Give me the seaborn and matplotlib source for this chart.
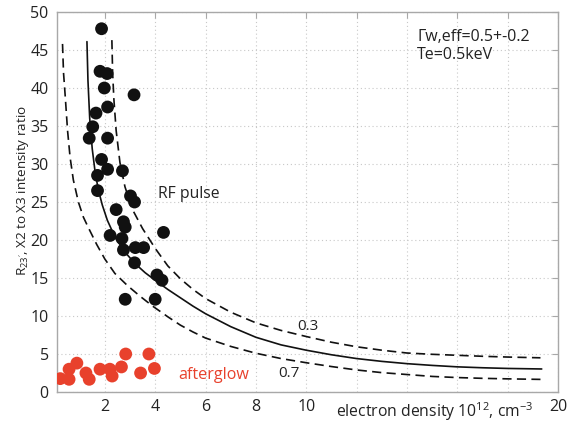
import matplotlib
matplotlib.use("Agg")
import matplotlib.pyplot as plt
import seaborn as sns
import pandas as pd

# ---- data ----
rf_x = [1.87, 1.81, 2.09, 1.98, 3.16, 2.11, 1.65, 1.52, 1.38, 2.11, 1.87, 2.11, 2.70,
        1.71, 1.71, 3.02, 3.18, 2.45, 2.74, 2.81, 2.21, 2.68, 4.33, 2.74, 3.21, 3.54,
        3.18, 4.07, 4.27, 2.81, 4.00]
rf_y = [47.8, 42.2, 41.9, 40.0, 39.1, 37.5, 36.7, 34.9, 33.4, 33.4, 30.6, 29.3, 29.1,
        28.5, 26.5, 25.8, 25.0, 24.0, 22.4, 21.7, 20.6, 20.2, 21.0, 18.7, 19.0, 19.0,
        17.0, 15.4, 14.7, 12.2, 12.2]

ag_x = [0.23, 0.58, 0.58, 0.89, 1.25, 1.38, 1.81, 2.20, 2.29, 2.66, 2.83, 3.42, 3.75, 3.97]
ag_y = [1.76, 1.67, 3.0, 3.8, 2.5, 1.67, 3.0, 3.0, 2.1, 3.3, 5.0, 2.5, 5.0, 3.1]

mid_x = [1.29, 1.33, 1.40, 1.50, 1.62, 1.75, 1.90, 2.10, 2.40, 2.80, 3.20, 3.60, 4.0,
         4.5, 5.0, 5.5, 6.0, 7.0, 8.0, 9.0, 10.0, 11.0, 12.0, 13.0, 14.0, 15.0, 16.0,
         17.0, 18.0, 19.35]
mid_y = [46.1, 41.0, 36.0, 32.0, 28.8, 26.5, 24.6, 22.6, 20.4, 18.4, 16.9, 15.7, 14.7,
         13.5, 12.4, 11.3, 10.3, 8.6, 7.2, 6.2, 5.5, 4.9, 4.4, 4.03, 3.73, 3.5, 3.31,
         3.19, 3.1, 3.03]

up_x = [2.28, 2.31, 2.36, 2.45, 2.60, 2.80, 3.10, 3.50, 4.0, 4.5, 5.0, 5.5, 6.0, 7.0,
        8.0, 9.0, 10.0, 11.0, 12.0, 13.0, 14.0, 15.0, 16.0, 17.0, 18.0, 19.3]
up_y = [46.3, 42.0, 38.5, 34.4, 30.2, 27.0, 24.0, 21.5, 18.9, 16.6, 14.9, 13.5, 12.3,
        10.5, 9.1, 8.1, 7.3, 6.55, 5.95, 5.5, 5.13, 4.96, 4.83, 4.7, 4.6, 4.5]

lo_x = [0.32, 0.36, 0.43, 0.52, 0.62, 0.75, 0.95, 1.15, 1.35, 1.68, 2.0, 2.4, 2.9, 3.4,
        3.9, 4.5, 5.0, 5.5, 6.0, 7.0, 8.0, 9.0, 10.0, 11.0, 12.0, 13.0, 14.0, 15.0,
        16.0, 17.0, 18.0, 19.3]
lo_y = [45.8, 42.0, 38.8, 34.4, 30.9, 27.9, 25.0, 23.0, 21.6, 19.4, 17.5, 15.6, 14.0,
        12.6, 11.3, 9.9, 8.8, 7.9, 7.1, 6.0, 5.1, 4.4, 3.85, 3.35, 2.9, 2.55, 2.3, 2.05,
        1.9, 1.8, 1.73, 1.66]

x_ticks = [2, 4, 6, 8, 10, 12, 14, 16, 18, 20]
x_ticklabels = ["2", "4", "6", "8", "10", "", "", "", "", "20"]
y_ticks = [0, 5, 10, 15, 20, 25, 30, 35, 40, 45, 50]

# ---- style ----
sns.set_style("white")
plt.rcParams['font.family'] = ['Open Sans', 'DejaVu Sans']
plt.rcParams['mathtext.fontset'] = 'custom'
plt.rcParams['mathtext.rm'] = 'Open Sans'
plt.rcParams['mathtext.it'] = 'Open Sans:italic'

fig = plt.figure(figsize=(5.85, 4.26), dpi=100)
ax = fig.add_axes([0.0974, 0.0798, 0.8566, 0.8920])

df_rf = pd.DataFrame({"x": rf_x, "y": rf_y})
df_ag = pd.DataFrame({"x": ag_x, "y": ag_y})

line_kw = dict(ax=ax, sort=False, estimator=None, color="#111111", linewidth=1.2,
               legend=False, zorder=2)
sns.lineplot(x=mid_x, y=mid_y, **line_kw)
l_up = sns.lineplot(x=up_x, y=up_y, **line_kw).lines[-1]
l_up.set_dashes((5.5, 3.2))
l_lo = sns.lineplot(x=lo_x, y=lo_y, **line_kw).lines[-1]
l_lo.set_dashes((5.5, 3.2))

sns.scatterplot(data=df_rf, x="x", y="y", ax=ax, color="#111111", s=85,
                edgecolor="none", zorder=3, legend=False)
sns.scatterplot(data=df_ag, x="x", y="y", ax=ax, color="#e8412c", s=85,
                edgecolor="none", zorder=3, legend=False)

ax.set_xlim(0.1, 20)
ax.set_ylim(0, 50)
ax.set_xticks(x_ticks)
ax.set_xticklabels(x_ticklabels)
ax.set_yticks(y_ticks)
ax.grid(True, linestyle=(0, (1, 2.5)), color="#c8c8c8", linewidth=0.8)
ax.set_axisbelow(True)

for sp in ax.spines.values():
    sp.set_color("#a8a8a8")
    sp.set_linewidth(1.0)

ax.tick_params(axis="both", which="both", direction="in", length=4, width=0.8,
               color="#a8a8a8", labelsize=11.5, labelcolor="#222222",
               top=True, right=True)
ax.tick_params(axis="x", pad=5)
ax.tick_params(axis="y", pad=6)

ax.set_xlabel(r"electron density 10$^{12}$, cm$^{-3}$", fontsize=11.3, color="#222222",
              va="top")
ax.xaxis.set_label_coords(0.754, -0.022)
ax.set_ylabel(r"R$_{\mathit{23'}}$, X2 to X3 intensity ratio", fontsize=9.7,
              color="#222222")
ax.yaxis.set_label_coords(-0.052, 0.53)

ax.text(4.12, 26.1, "RF pulse", fontsize=11.3, color="#222222", va="center", ha="left")
ax.text(4.91, 2.2, "afterglow", fontsize=11.6, color="#e8412c", va="center", ha="left")
ax.text(9.63, 8.6, "0.3", fontsize=11, color="#222222", va="center", ha="left")
ax.text(8.88, 2.4, "0.7", fontsize=11, color="#222222", va="center", ha="left")
ax.text(14.4, 46.7, "Γw,eff=0.5+-0.2", fontsize=11.5, color="#222222", va="center",
        ha="left")
ax.text(14.4, 44.4, "Te=0.5keV", fontsize=11.5, color="#222222", va="center", ha="left")

fig.savefig("out.png", dpi=100)
